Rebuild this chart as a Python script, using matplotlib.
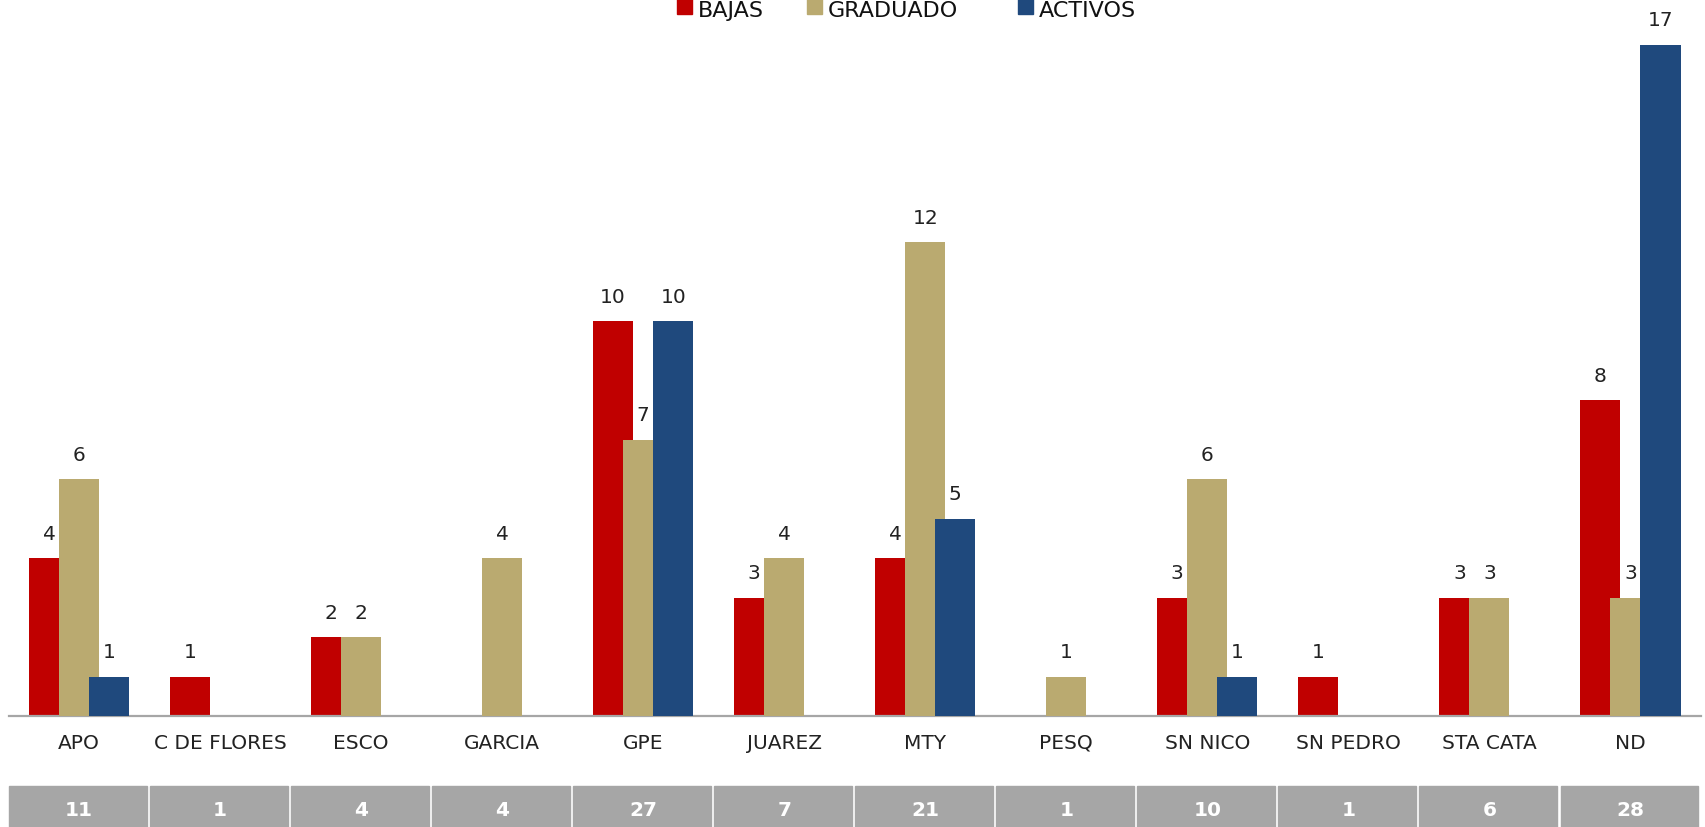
import matplotlib
matplotlib.use("Agg")
import matplotlib.pyplot as plt
from matplotlib.patches import Rectangle
from matplotlib.transforms import blended_transform_factory
import numpy as np

# data
categories = ['APO', 'C DE FLORES', 'ESCO', 'GARCIA', 'GPE', 'JUAREZ',
              'MTY', 'PESQ', 'SN NICO', 'SN PEDRO', 'STA CATA', 'ND']
bajas = [4, 1, 2, 0, 10, 3, 4, 0, 3, 1, 3, 8]
graduado = [6, 0, 2, 4, 7, 4, 12, 1, 6, 0, 3, 3]
activos = [1, 0, 0, 0, 10, 0, 5, 0, 1, 0, 0, 17]
totals = [11, 1, 4, 4, 27, 7, 21, 1, 10, 1, 6, 28]

series = [('BAJAS', bajas, '#C00000'),
          ('GRADUADO', graduado, '#BAAA70'),
          ('ACTIVOS', activos, '#1F497D')]

plt.rcParams['font.family'] = ['DejaVu Sans']

W, H = 1705, 828
fig = plt.figure(figsize=(W / 100, H / 100), dpi=100)
ax = fig.add_axes([8.5 / W, 1 - 717 / H, (1701 - 8.5) / W, 711 / H])

x = np.arange(len(categories))
width = 0.284
step = 0.213

for k, (name, vals, color) in enumerate(series):
    pos = x + (k - 1) * step
    vals = np.array(vals)
    mask = vals > 0
    ax.bar(pos[mask], vals[mask], width=width, color=color, zorder=2 + k)
    for px, v in zip(pos[mask], vals[mask]):
        ax.annotate(str(v), (px, v), xytext=(0, 11), textcoords='offset points',
                    ha='center', va='bottom', fontsize=14.5, color='#222222',
                    annotation_clip=False)

ax.set_xlim(-0.5, len(categories) - 0.5)
ax.set_ylim(0, 18)
ax.set_yticks([])
ax.set_xticks(x)
ax.set_xticklabels(categories, fontsize=14.5, color='#222222')
ax.tick_params(axis='x', length=0, pad=12)
for s in ['top', 'right', 'left']:
    ax.spines[s].set_visible(False)
ax.spines['bottom'].set_color('#A6A6A6')
ax.spines['bottom'].set_linewidth(1.6)

# totals row at the bottom
trans = blended_transform_factory(ax.transData, fig.transFigure)
for i, t in enumerate(totals):
    ax.add_patch(Rectangle((i - 0.5 + 0.004, -0.02), 1 - 0.025, (H - 787) / H + 0.02,
                           transform=trans, color='#A6A6A6', clip_on=False))
    ax.text(i, 17 / H, str(t), transform=trans, ha='center', va='center',
            fontsize=14.5, fontweight='bold', color='white', clip_on=False)

# legend at the top, partly cut off like the original
legend_x = [677, 807, 1018]
for (name, _, color), lx in zip(series, legend_x):
    fig.patches.append(Rectangle((lx / W, 1 - 15 / H), 15 / W, 15 / H,
                                 transform=fig.transFigure, color=color))
    fig.text((lx + 21) / W, 1 - 17 / H, name, fontsize=16, color='#111111',
             ha='left', va='baseline')

fig.savefig('out.png', dpi=100)
